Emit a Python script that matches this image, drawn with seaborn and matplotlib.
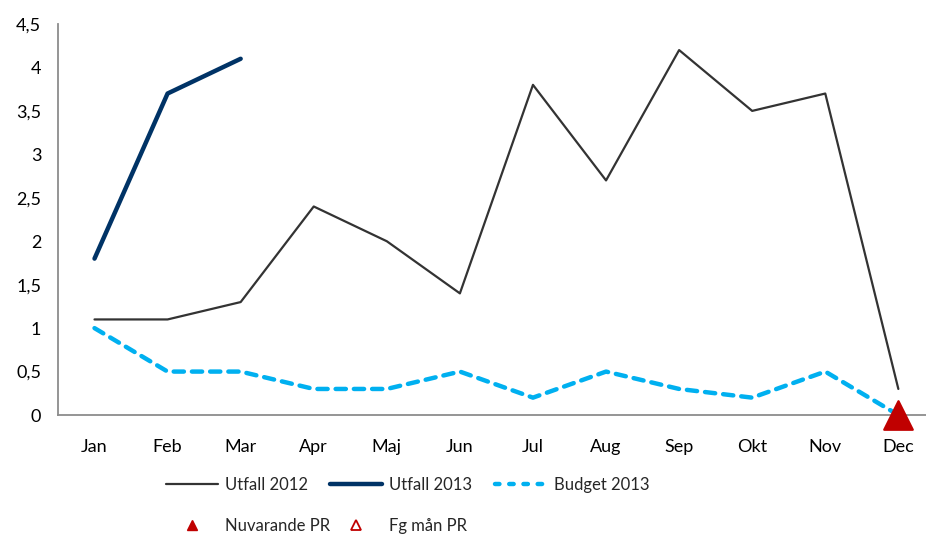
import matplotlib
matplotlib.use("Agg")
import matplotlib.pyplot as plt
from matplotlib.lines import Line2D
import pandas as pd
import seaborn as sns

# manader och serier, avlasta fran bilden
MANADER = ["Jan", "Feb", "Mar", "Apr", "Maj", "Jun", "Jul", "Aug", "Sep", "Okt", "Nov", "Dec"]
UTFALL_2012 = [1.1, 1.1, 1.3, 2.4, 2.0, 1.4, 3.8, 2.7, 4.2, 3.5, 3.7, 0.3]
UTFALL_2013 = [1.8, 3.7, 4.1]
BUDGET_2013 = [1.0, 0.5, 0.5, 0.3, 0.3, 0.5, 0.2, 0.5, 0.3, 0.2, 0.5, 0.0]
NUVARANDE_PR_MANAD = ["Dec"]
NUVARANDE_PR = [0.0]
Y_TICKS = [0, 0.5, 1, 1.5, 2, 2.5, 3, 3.5, 4, 4.5]

GRA = "#333333"
MORKBLA = "#003366"
LJUSBLA = "#00B0F0"
ROD = "#C00000"
AXEL = "#8C8C8C"

sns.set_style("white")
plt.rcParams["font.family"] = ["Lato", "DejaVu Sans"]

fig = plt.figure(figsize=(9.26, 5.36), dpi=100)
ax = fig.add_axes([0.0626, 0.2257, 0.947, 0.7295])

df12 = pd.DataFrame({"manad": MANADER, "varde": UTFALL_2012})
df13 = pd.DataFrame({"manad": MANADER[:len(UTFALL_2013)], "varde": UTFALL_2013})
dfb = pd.DataFrame({"manad": MANADER, "varde": BUDGET_2013})
dfpr = pd.DataFrame({"manad": NUVARANDE_PR_MANAD, "varde": NUVARANDE_PR})

sns.lineplot(data=df12, x="manad", y="varde", sort=False, color=GRA, linewidth=1.6, ax=ax)
sns.lineplot(data=df13, x="manad", y="varde", sort=False, color=MORKBLA, linewidth=3.2,
             solid_capstyle="round", ax=ax)
sns.lineplot(data=dfb, x="manad", y="varde", sort=False, color=LJUSBLA, linewidth=3.2,
             dashes=False, ax=ax)
ax.lines[-1].set_dashes((2.3, 1.8))
ax.lines[-1].set_dash_capstyle("round")
sns.scatterplot(data=dfpr, x="manad", y="varde", marker="^", s=420, color=ROD,
                edgecolor=ROD, ax=ax, clip_on=False, zorder=5)

ax.set_xlim(-0.5, 11.5)
ax.set_ylim(0, 4.5)
ax.set_yticks(Y_TICKS)
ax.set_yticklabels([f"{v:g}".replace(".", ",") for v in Y_TICKS])
ax.set_xlabel("")
ax.set_ylabel("")
ax.tick_params(axis="both", length=0, labelsize=13, colors="#000000")
ax.tick_params(axis="x", pad=17)
ax.tick_params(axis="y", pad=12)

for s in ["top", "right"]:
    ax.spines[s].set_visible(False)
for s in ["left", "bottom"]:
    ax.spines[s].set_color(AXEL)
    ax.spines[s].set_linewidth(1.3)

# legenden: en post i taget, placerad som i excel-rutnatet
h12 = Line2D([], [], color=GRA, linewidth=1.6)
h13 = Line2D([], [], color=MORKBLA, linewidth=3.2)
hb = Line2D([], [], color=LJUSBLA, linewidth=3.2, dashes=(1.0, 2.2), dash_capstyle="round")
hnu = Line2D([], [], color=ROD, marker="^", linestyle="none", markersize=7)
hfg = Line2D([], [], color=ROD, marker="^", linestyle="none", markersize=7,
             markerfacecolor="white", markeredgewidth=1.3)

poster = [
    (h12, "Utfall 2012", 166, 485),
    (h13, "Utfall 2013", 330, 485),
    (hb, "Budget 2013", 495, 485),
    (hnu, "Nuvarande PR", 166, 526),
    (hfg, "Fg mån PR", 330, 526),
]
for h, txt, px, py in poster:
    fig.legend([h], [txt], loc="center left", bbox_to_anchor=(px / 926, 1 - py / 536),
               frameon=False, fontsize=12, handlelength=3.1, handletextpad=0.42,
               borderpad=0, borderaxespad=0)

plt.savefig("out.png", dpi=100)
plt.close()
